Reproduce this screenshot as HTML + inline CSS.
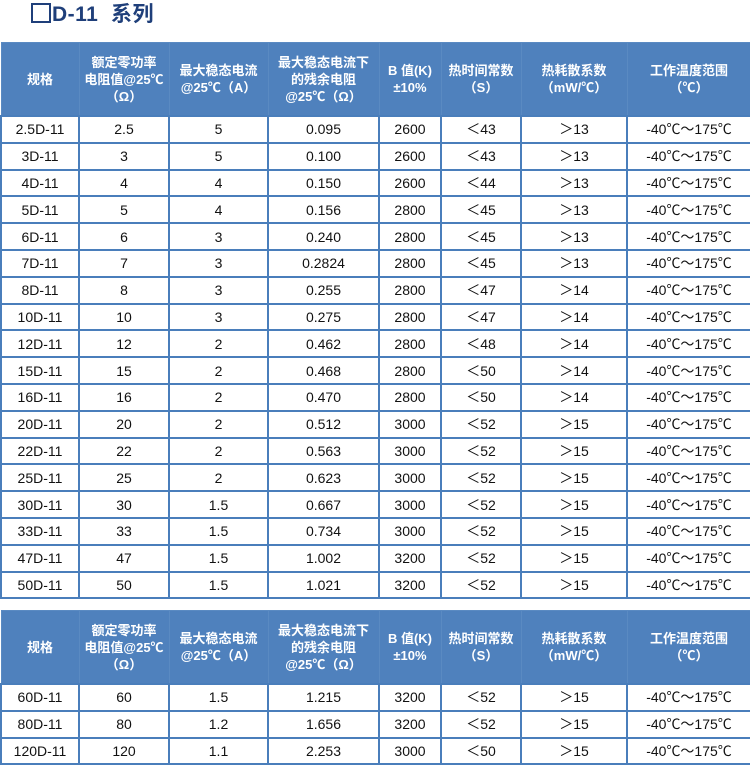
<!DOCTYPE html>
<html><head><meta charset="utf-8"><style>
body{margin:0;background:#fff;width:750px;height:772px;overflow:hidden;font-family:"Liberation Sans","Noto Sans CJK SC",sans-serif;}
h1{position:absolute;left:31px;top:3px;margin:0;font-size:21px;font-weight:bold;color:#1f3f7a;letter-spacing:0.5px;line-height:24px}
.sq{display:inline-block;width:16px;height:16px;border:2px solid #1f3f7a;vertical-align:-2px;margin-right:1px}
table{position:absolute;left:0;width:750px;border-collapse:collapse;table-layout:fixed}
td{border:2px solid #4a7ebb;text-align:center;font-size:14px;color:#111;padding:0;height:24.8px}
th{background:#4f81bd;color:#fff;font-weight:bold;font-size:13px;line-height:17px;border:1px solid #5a8ac2;padding:0;height:72px}
</style></head><body>
<h1><span class="sq"></span>D-11&nbsp; 系列</h1>
<table style="top:42px">
<colgroup><col style="width:78px"><col style="width:90px"><col style="width:99px"><col style="width:111px"><col style="width:62px"><col style="width:80px"><col style="width:106px"><col style="width:124px"></colgroup>
<tr><th>规格</th><th>额定零功率<br>电阻值@25℃<br>（Ω）</th><th>最大稳态电流<br>@25℃（A）</th><th>最大稳态电流下<br>的残余电阻<br>@25℃（Ω）</th><th>B 值(K)<br>±10%</th><th>热时间常数<br>（S）</th><th>热耗散系数<br>（mW/℃）</th><th>工作温度范围<br>（℃）</th></tr>
<tr><td>2.5D-11</td><td>2.5</td><td>5</td><td>0.095</td><td>2600</td><td>＜43</td><td>＞13</td><td>-40℃～175℃</td></tr>
<tr><td>3D-11</td><td>3</td><td>5</td><td>0.100</td><td>2600</td><td>＜43</td><td>＞13</td><td>-40℃～175℃</td></tr>
<tr><td>4D-11</td><td>4</td><td>4</td><td>0.150</td><td>2600</td><td>＜44</td><td>＞13</td><td>-40℃～175℃</td></tr>
<tr><td>5D-11</td><td>5</td><td>4</td><td>0.156</td><td>2800</td><td>＜45</td><td>＞13</td><td>-40℃～175℃</td></tr>
<tr><td>6D-11</td><td>6</td><td>3</td><td>0.240</td><td>2800</td><td>＜45</td><td>＞13</td><td>-40℃～175℃</td></tr>
<tr><td>7D-11</td><td>7</td><td>3</td><td>0.2824</td><td>2800</td><td>＜45</td><td>＞13</td><td>-40℃～175℃</td></tr>
<tr><td>8D-11</td><td>8</td><td>3</td><td>0.255</td><td>2800</td><td>＜47</td><td>＞14</td><td>-40℃～175℃</td></tr>
<tr><td>10D-11</td><td>10</td><td>3</td><td>0.275</td><td>2800</td><td>＜47</td><td>＞14</td><td>-40℃～175℃</td></tr>
<tr><td>12D-11</td><td>12</td><td>2</td><td>0.462</td><td>2800</td><td>＜48</td><td>＞14</td><td>-40℃～175℃</td></tr>
<tr><td>15D-11</td><td>15</td><td>2</td><td>0.468</td><td>2800</td><td>＜50</td><td>＞14</td><td>-40℃～175℃</td></tr>
<tr><td>16D-11</td><td>16</td><td>2</td><td>0.470</td><td>2800</td><td>＜50</td><td>＞14</td><td>-40℃～175℃</td></tr>
<tr><td>20D-11</td><td>20</td><td>2</td><td>0.512</td><td>3000</td><td>＜52</td><td>＞15</td><td>-40℃～175℃</td></tr>
<tr><td>22D-11</td><td>22</td><td>2</td><td>0.563</td><td>3000</td><td>＜52</td><td>＞15</td><td>-40℃～175℃</td></tr>
<tr><td>25D-11</td><td>25</td><td>2</td><td>0.623</td><td>3000</td><td>＜52</td><td>＞15</td><td>-40℃～175℃</td></tr>
<tr><td>30D-11</td><td>30</td><td>1.5</td><td>0.667</td><td>3000</td><td>＜52</td><td>＞15</td><td>-40℃～175℃</td></tr>
<tr><td>33D-11</td><td>33</td><td>1.5</td><td>0.734</td><td>3000</td><td>＜52</td><td>＞15</td><td>-40℃～175℃</td></tr>
<tr><td>47D-11</td><td>47</td><td>1.5</td><td>1.002</td><td>3200</td><td>＜52</td><td>＞15</td><td>-40℃～175℃</td></tr>
<tr><td>50D-11</td><td>50</td><td>1.5</td><td>1.021</td><td>3200</td><td>＜52</td><td>＞15</td><td>-40℃～175℃</td></tr>
</table>
<table style="top:610px">
<colgroup><col style="width:78px"><col style="width:90px"><col style="width:99px"><col style="width:111px"><col style="width:62px"><col style="width:80px"><col style="width:106px"><col style="width:124px"></colgroup>
<tr><th style="height:68px">规格</th><th>额定零功率<br>电阻值@25℃<br>（Ω）</th><th>最大稳态电流<br>@25℃（A）</th><th>最大稳态电流下<br>的残余电阻<br>@25℃（Ω）</th><th>B 值(K)<br>±10%</th><th>热时间常数<br>（S）</th><th>热耗散系数<br>（mW/℃）</th><th>工作温度范围<br>（℃）</th></tr>
<tr><td>60D-11</td><td>60</td><td>1.5</td><td>1.215</td><td>3200</td><td>＜52</td><td>＞15</td><td>-40℃～175℃</td></tr>
<tr><td>80D-11</td><td>80</td><td>1.2</td><td>1.656</td><td>3200</td><td>＜52</td><td>＞15</td><td>-40℃～175℃</td></tr>
<tr><td>120D-11</td><td>120</td><td>1.1</td><td>2.253</td><td>3000</td><td>＜50</td><td>＞15</td><td>-40℃～175℃</td></tr>
</table>
</body></html>
